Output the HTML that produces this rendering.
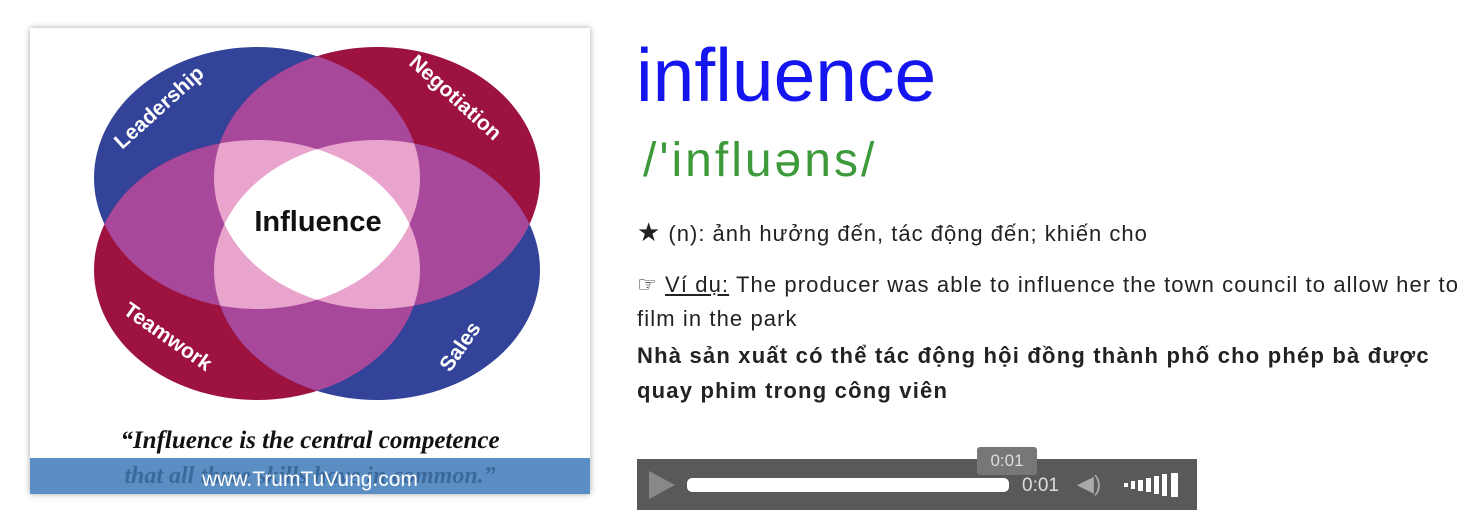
<!DOCTYPE html>
<html><head><meta charset="utf-8"><style>
body{margin:0;width:1471px;height:525px;background:#fff;position:relative;overflow:hidden;font-family:"Liberation Sans",sans-serif}
.a{position:absolute;white-space:nowrap}
</style></head><body>
<div class="a" style="left:30px;top:28px;width:560px;height:466px;background:#fff;box-shadow:0 0 6px rgba(0,0,0,.35)">
<svg width="560" height="466">
<defs>
<clipPath id="cL"><ellipse cx="227" cy="150" rx="163" ry="131"/></clipPath>
<clipPath id="cN"><ellipse cx="347" cy="150" rx="163" ry="131"/></clipPath>
<clipPath id="cT"><ellipse cx="227" cy="242" rx="163" ry="130"/></clipPath>
<clipPath id="cS"><ellipse cx="347" cy="242" rx="163" ry="130"/></clipPath>
</defs>
<ellipse cx="227" cy="150" rx="163" ry="131" fill="#34439a"/>
<ellipse cx="347" cy="150" rx="163" ry="131" fill="#9e1240"/>
<ellipse cx="227" cy="242" rx="163" ry="130" fill="#9e1240"/>
<ellipse cx="347" cy="242" rx="163" ry="130" fill="#34439a"/>
<g fill="#a8489b">
<g clip-path="url(#cL)"><ellipse cx="347" cy="150" rx="163" ry="131"/><ellipse cx="227" cy="242" rx="163" ry="130"/><ellipse cx="347" cy="242" rx="163" ry="130"/></g>
<g clip-path="url(#cN)"><ellipse cx="227" cy="242" rx="163" ry="130"/><ellipse cx="347" cy="242" rx="163" ry="130"/></g>
<g clip-path="url(#cT)"><ellipse cx="347" cy="242" rx="163" ry="130"/></g>
</g>
<g fill="#e8a4cd">
<g clip-path="url(#cL)"><g clip-path="url(#cN)"><ellipse cx="227" cy="242" rx="163" ry="130"/><ellipse cx="347" cy="242" rx="163" ry="130"/></g></g>
<g clip-path="url(#cT)"><g clip-path="url(#cS)"><ellipse cx="227" cy="150" rx="163" ry="131"/><ellipse cx="347" cy="150" rx="163" ry="131"/></g></g>
</g>
<g clip-path="url(#cL)"><g clip-path="url(#cN)"><g clip-path="url(#cT)"><ellipse cx="347" cy="242" rx="163" ry="130" fill="#fff"/></g></g></g>
<text x="288" y="203" text-anchor="middle" font-family="Liberation Sans" font-weight="bold" font-size="29" fill="#111">Influence</text>
<text x="92" y="122" transform="rotate(-42 92 122)" font-family="Liberation Sans" font-weight="bold" font-size="21" fill="#fff">Leadership</text>
<text x="378" y="36" transform="rotate(42 378 36)" font-family="Liberation Sans" font-weight="bold" font-size="21" fill="#fff">Negotiation</text>
<text x="92" y="285" transform="rotate(35 92 285)" font-family="Liberation Sans" font-weight="bold" font-size="21" fill="#fff">Teamwork</text>
<text x="420" y="345" transform="rotate(-55 420 345)" font-family="Liberation Sans" font-weight="bold" font-size="21" fill="#fff">Sales</text>
<text x="280" y="420" text-anchor="middle" font-family="Liberation Serif" font-style="italic" font-weight="bold" font-size="25" fill="#111">“Influence is the central competence</text>
<rect x="0" y="430" width="560" height="36" fill="#5b8fc4"/>
<text x="280" y="455" text-anchor="middle" font-family="Liberation Serif" font-style="italic" font-weight="bold" font-size="24" fill="#2f5a8a" opacity="0.7">that all three skills have in common.”</text>
<text x="280" y="458" text-anchor="middle" font-family="Liberation Sans" font-size="21" fill="#fff">www.TrumTuVung.com</text>
</svg></div>
<div class="a" style="left:636px;top:32px;font-size:75px;color:#1515f0">influence</div>
<div class="a" style="left:643px;top:133px;font-size:48px;letter-spacing:3px;color:#3c9a3a">/'influəns/</div>
<div class="a" style="left:637px;top:217px;font-size:22px;letter-spacing:1px;color:#222"><span style="font-size:26px">★</span> (n): ảnh hưởng đến, tác động đến; khiến cho</div>
<div class="a" style="left:637px;top:268px;font-size:22px;letter-spacing:1.1px;color:#222;line-height:34px;white-space:normal;width:830px">☞ <u>Ví dụ:</u> The producer was able to influence the town council to allow her to film in the park</div>
<div class="a" style="left:637px;top:338px;font-size:22px;letter-spacing:1.2px;font-weight:bold;color:#222;line-height:35px;white-space:normal;width:830px">Nhà sản xuất có thể tác động hội đồng thành phố cho phép bà được quay phim trong công viên</div>
<div class="a" style="left:637px;top:459px;width:560px;height:51px;background:#595959">
<div class="a" style="left:12px;top:12px;width:0;height:0;border-left:26px solid #888;border-top:14px solid transparent;border-bottom:14px solid transparent"></div>
<div class="a" style="left:50px;top:19px;width:322px;height:14px;background:#fff;border-radius:5px"></div>
<div class="a" style="left:385px;top:16px;font-size:19px;color:#ddd">0:01</div>
<div class="a" style="left:440px;top:12px;font-size:22px;color:#aaa">◀)</div>
<div class="a" style="left:487px;top:14px;width:60px;height:24px">
<div class="a" style="left:0;top:10px;width:4px;height:4px;background:#fff"></div>
<div class="a" style="left:7px;top:8px;width:4px;height:8px;background:#fff"></div>
<div class="a" style="left:14px;top:7px;width:5px;height:11px;background:#fff"></div>
<div class="a" style="left:22px;top:5px;width:5px;height:14px;background:#fff"></div>
<div class="a" style="left:30px;top:3px;width:5px;height:18px;background:#fff"></div>
<div class="a" style="left:38px;top:1px;width:5px;height:22px;background:#fff"></div>
<div class="a" style="left:47px;top:0;width:7px;height:24px;background:#fff"></div>
</div></div>
<div class="a" style="left:977px;top:447px;width:60px;height:28px;background:#777;border-radius:3px;color:#ddd;font-size:17px;text-align:center;line-height:28px">0:01</div>
</body></html>
